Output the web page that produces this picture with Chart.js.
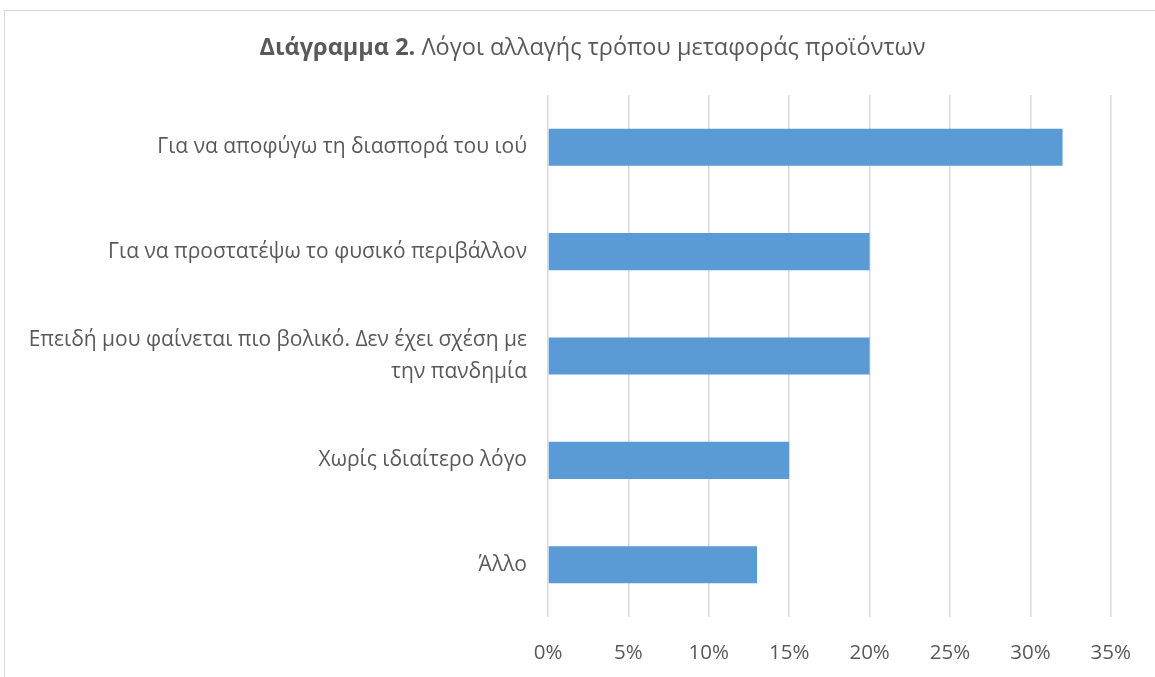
<!DOCTYPE html>
<html lang="el">
<head>
  <meta charset="UTF-8">
  <title>Διάγραμμα 2</title>
  <script src="https://cdn.jsdelivr.net/npm/chart.js"></script>
  <style>
    body { margin: 0; background: #fff; font-family: "Open Sans", sans-serif; }
    #frame { position: absolute; left: 4px; top: 10px; width: 1300px; height: 800px; border: 1px solid #d9d9d9; }
    #title { position: absolute; left: 0; width: 1185px; top: 30px; text-align: center; font-size: 23.5px; color: #595959; }
    #wrap { position: absolute; left: 0; top: 0; width: 1155px; height: 677px; }
  </style>
</head>
<body>
  <div id="frame"></div>
  <div id="wrap"><canvas id="chart"></canvas></div>
  <div id="title"><b>Διάγραμμα 2.</b> Λόγοι αλλαγής τρόπου μεταφοράς προϊόντων</div>

  <script>
    // categories (top to bottom) and their shares in percent
    const reasons = [
      'Για να αποφύγω τη διασπορά του ιού',
      'Για να προστατέψω το φυσικό περιβάλλον',
      ['Επειδή μου φαίνεται πιο βολικό. Δεν έχει σχέση με', 'την πανδημία'],
      'Χωρίς ιδιαίτερο λόγο',
      'Άλλο'
    ];
    const shares = [32, 20, 20, 15, 13];
    const axisMax = 35;
    const axisStep = 5;

    const grey = '#595959';

    new Chart(document.getElementById('chart'), {
      type: 'bar',
      data: {
        labels: reasons,
        datasets: [{
          data: shares,
          backgroundColor: '#5b9bd5',
          barPercentage: 1,
          categoryPercentage: 0.355
        }]
      },
      options: {
        indexAxis: 'y',
        responsive: true,
        maintainAspectRatio: false,
        animation: false,
        layout: { padding: { left: 0, top: 95, right: 43, bottom: 0 } },
        plugins: {
          legend: { display: false },
          title: { display: false },
          tooltip: { enabled: false }
        },
        scales: {
          x: {
            min: 0,
            max: axisMax,
            ticks: {
              stepSize: axisStep,
              padding: 24,
              color: grey,
              font: { family: 'Open Sans', size: 20.5 },
              callback: v => v + '%'
            },
            grid: { color: '#d9d9d9', lineWidth: 1.5, drawTicks: false },
            border: { display: false },
            afterFit: s => { s.height = 60; }
          },
          y: {
            ticks: {
              padding: 13,
              color: grey,
              font: { family: 'Open Sans', size: 21, lineHeight: 1.5 }
            },
            grid: { display: false },
            border: { display: false },
            afterFit: s => { s.width = 548; }
          }
        }
      }
    });
  </script>
</body>
</html>
